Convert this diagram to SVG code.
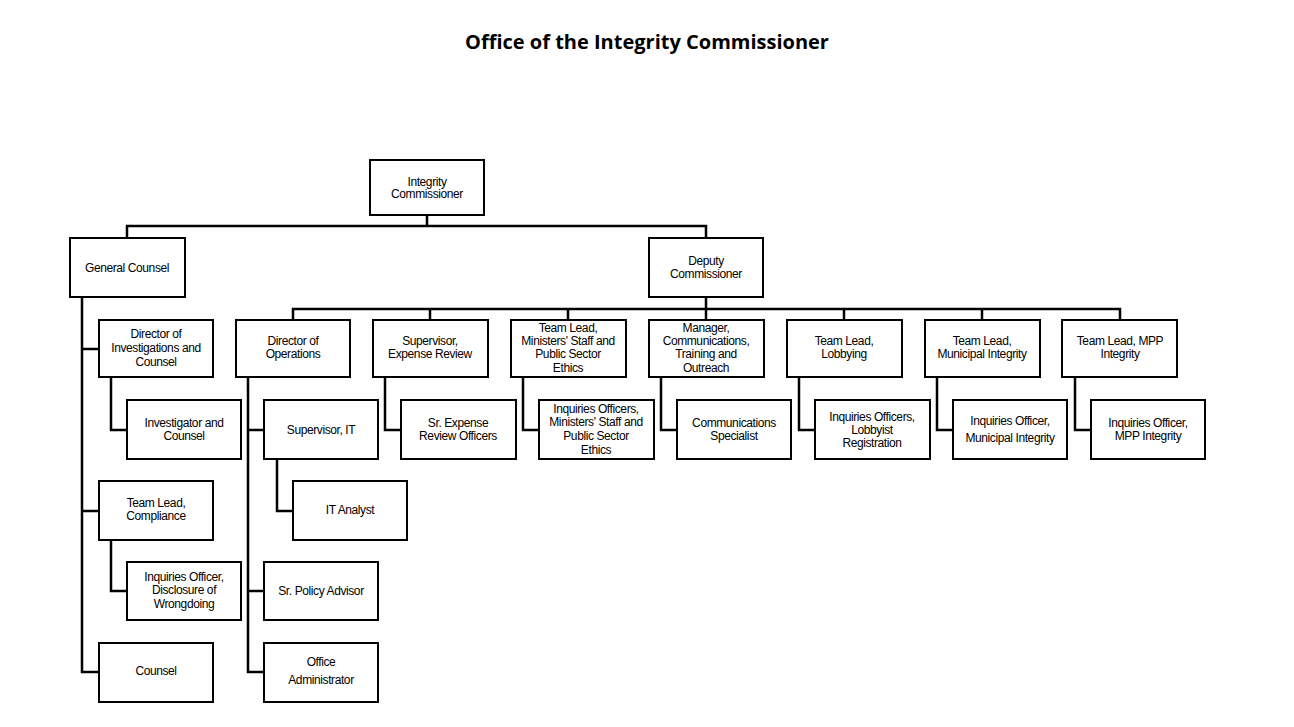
<svg xmlns="http://www.w3.org/2000/svg" width="1294" height="727" viewBox="0 0 1294 727">
<style>
rect{fill:#fff;stroke:#000;stroke-width:2}
.c path{fill:none;stroke:#000;stroke-width:2.5}
text{font-family:"Liberation Sans",Arial,sans-serif;font-size:12px;text-anchor:middle;letter-spacing:-0.4px;fill:#000}
.t{font-family:"Open Sans","Noto Sans",sans-serif;font-size:20px;font-weight:bold;letter-spacing:0}
</style>
<rect x="0" y="0" width="1294" height="727" style="stroke:none"/>
<text class="t" x="647" y="49">Office of the Integrity Commissioner</text>
<g class="c">
<path d="M427 215V226M127 238V226H706V238"/>
<path d="M706 297V309M293 320V309H1120V320M430 309V320M568 309V320M706 309V320M844 309V320M982 309V320"/>
<path d="M82 297V672H99M82 349H99M82 511H99M111 377V430H127M111 540V591H127"/>
<path d="M248 377V672H264M248 430H264M248 591H264M277 459V511H293"/>
<path d="M385 377V430H401M523 377V430H539M661 377V430H677M799 377V430H815M937 377V430H953M1075 377V430H1091"/>
</g>
<g id="ic"><rect x="370" y="160" width="114" height="55"/><text x="427" y="186">Integrity</text><text x="427" y="198">Commissioner</text></g>
<g id="gc"><rect x="70" y="238" width="115" height="59"/><text x="127" y="272">General Counsel</text></g>
<g id="dc"><rect x="649" y="238" width="114" height="59"/><text x="706" y="265">Deputy</text><text x="706" y="278">Commissioner</text></g>
<g id="dic"><rect x="99" y="320" width="114" height="57"/><text x="156" y="338">Director of</text><text x="156" y="352">Investigations and</text><text x="156" y="366">Counsel</text></g>
<g id="iac"><rect x="127" y="400" width="114" height="59"/><text x="184" y="427">Investigator and</text><text x="184" y="440">Counsel</text></g>
<g id="tlc"><rect x="99" y="481" width="114" height="59"/><text x="156" y="507">Team Lead,</text><text x="156" y="520">Compliance</text></g>
<g id="iod"><rect x="127" y="562" width="114" height="58"/><text x="184" y="581">Inquiries Officer,</text><text x="184" y="594">Disclosure of</text><text x="184" y="608">Wrongdoing</text></g>
<g id="cou"><rect x="99" y="643" width="114" height="59"/><text x="156" y="675">Counsel</text></g>
<g id="dop"><rect x="236" y="320" width="114" height="57"/><text x="293" y="345">Director of</text><text x="293" y="358">Operations</text></g>
<g id="sit"><rect x="264" y="400" width="114" height="59"/><text x="321" y="434">Supervisor, IT</text></g>
<g id="ita"><rect x="293" y="481" width="114" height="59"/><text x="350" y="514">IT Analyst</text></g>
<g id="spa"><rect x="264" y="562" width="114" height="58"/><text x="321" y="595">Sr. Policy Advisor</text></g>
<g id="oa"><rect x="264" y="643" width="114" height="59"/><text x="321" y="666">Office</text><text x="321" y="684">Administrator</text></g>
<g id="ser"><rect x="373" y="320" width="115" height="57"/><text x="430" y="345">Supervisor,</text><text x="430" y="358">Expense Review</text></g>
<g id="sero"><rect x="401" y="400" width="115" height="59"/><text x="458" y="427">Sr. Expense</text><text x="458" y="440">Review Officers</text></g>
<g id="tlm"><rect x="511" y="320" width="115" height="57"/><text x="568" y="332">Team Lead,</text><text x="568" y="345">Ministers' Staff and</text><text x="568" y="358">Public Sector</text><text x="568" y="372">Ethics</text></g>
<g id="iom"><rect x="539" y="400" width="115" height="59"/><text x="596" y="413">Inquiries Officers,</text><text x="596" y="426">Ministers' Staff and</text><text x="596" y="440">Public Sector</text><text x="596" y="454">Ethics</text></g>
<g id="mct"><rect x="649" y="320" width="115" height="57"/><text x="706" y="332">Manager,</text><text x="706" y="345">Communications,</text><text x="706" y="358">Training and</text><text x="706" y="372">Outreach</text></g>
<g id="cs"><rect x="677" y="400" width="114" height="59"/><text x="734" y="427">Communications</text><text x="734" y="440">Specialist</text></g>
<g id="tll"><rect x="787" y="320" width="115" height="57"/><text x="844" y="345">Team Lead,</text><text x="844" y="358">Lobbying</text></g>
<g id="iol"><rect x="815" y="400" width="115" height="59"/><text x="872" y="421">Inquiries Officers,</text><text x="872" y="434">Lobbyist</text><text x="872" y="447">Registration</text></g>
<g id="tlmu"><rect x="925" y="320" width="115" height="57"/><text x="982" y="345">Team Lead,</text><text x="982" y="358">Municipal Integrity</text></g>
<g id="iomu"><rect x="953" y="400" width="114" height="59"/><text x="1010" y="425">Inquiries Officer,</text><text x="1010" y="442">Municipal Integrity</text></g>
<g id="tlmpp"><rect x="1062" y="320" width="115" height="57"/><text x="1120" y="345">Team Lead, MPP</text><text x="1120" y="358">Integrity</text></g>
<g id="iompp"><rect x="1091" y="400" width="114" height="59"/><text x="1148" y="427">Inquiries Officer,</text><text x="1148" y="440">MPP Integrity</text></g>
</svg>
